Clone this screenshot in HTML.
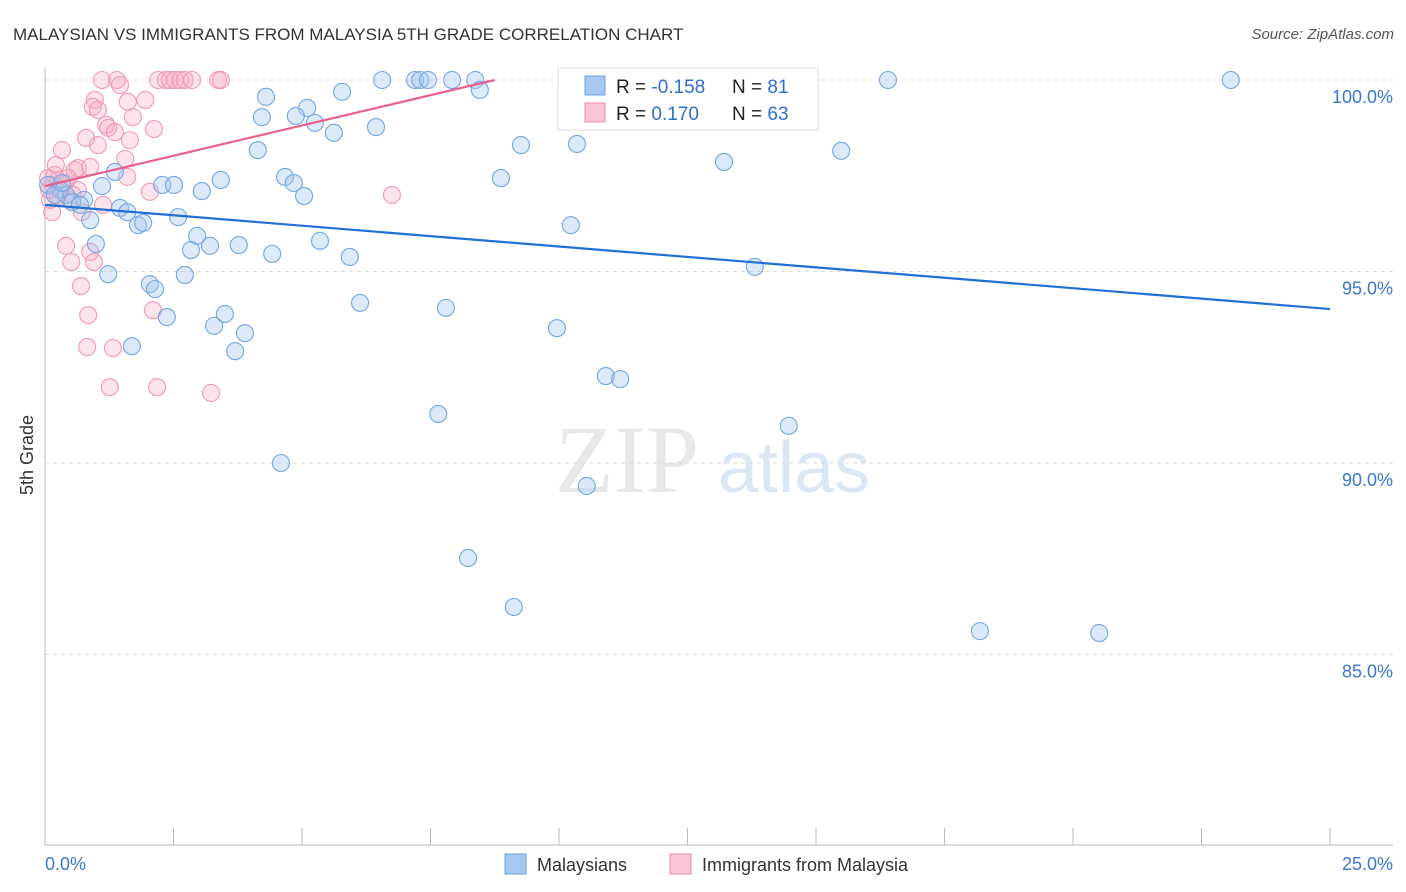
<!DOCTYPE html>
<html><head><meta charset="utf-8"><style>
body{margin:0;background:#fff;font-family:"Liberation Sans",sans-serif}
svg{display:block}
</style></head><body>
<svg width="1406" height="892">
<text x="13" y="40" font-size="17" fill="#333">MALAYSIAN VS IMMIGRANTS FROM MALAYSIA 5TH GRADE CORRELATION CHART</text>
<text x="1394" y="39" font-size="15" fill="#555" text-anchor="end" font-style="italic">Source: ZipAtlas.com</text>
<text x="555" y="492" font-size="96" fill="#e8e8e8" font-family="Liberation Serif,serif">ZIP</text>
<text x="718" y="492" font-size="72" fill="#dce7f6">atlas</text>
<g id="grid"></g>
<line x1="45" y1="68" x2="45" y2="845" stroke="#bbb"/>
<line x1="45" y1="845" x2="1393" y2="845" stroke="#bbb"/>
<text x="33" y="455" font-size="18" fill="#333" transform="rotate(-90 33 455)" text-anchor="middle">5th Grade</text>
<text x="45" y="870" font-size="18" fill="#3a78d0">0.0%</text>
<text x="1393" y="870" font-size="18" fill="#3a78d0" text-anchor="end">25.0%</text>
<g id="pts"></g>
<g id="lines"></g>
<g>
<rect x="558" y="68" width="260" height="62" fill="#fff" stroke="#ddd"/>
<rect x="585" y="76" width="20" height="19" fill="#a8c8f4" stroke="#6a9fe0"/>
<rect x="585" y="103" width="20" height="19" fill="#fcc6d6" stroke="#e88aa8"/>
<text x="616" y="93" font-size="19" fill="#222">R = <tspan fill="#2f6fd0">-0.158</tspan></text>
<text x="732" y="93" font-size="19" fill="#222">N = <tspan fill="#2f6fd0"> 81</tspan></text>
<text x="616" y="120" font-size="19" fill="#222">R = <tspan fill="#2f6fd0"> 0.170</tspan></text>
<text x="732" y="120" font-size="19" fill="#222">N = <tspan fill="#2f6fd0">63</tspan></text>
</g>
<g>
<rect x="505" y="854" width="21" height="20" fill="#a8c8f4" stroke="#6a9fe0"/>
<text x="537" y="871" font-size="18" fill="#333">Malaysians</text></g>
<g>
<rect x="670" y="854" width="21" height="20" fill="#fcc6d6" stroke="#e88aa8"/>
<text x="702" y="871" font-size="18" fill="#333">Immigrants from Malaysia</text></g>
</svg>
<script>
const yTicks=[100,95,90,85];
const yTickLabels=["100.0%","95.0%","90.0%","85.0%"];
const xTicks=[0,2.5,5,7.5,10,12.5,15,17.5,20,22.5,25];
const blueX=[6.56,7.20,7.30,7.45,7.92,8.37,8.46,11.50,14.11,16.40,23.07,4.30,5.78,5.10,4.22,4.88,5.25,5.62,6.44,9.26,10.35,13.21,15.49,4.14,1.36,4.67,4.84,3.42,2.28,2.51,3.05,5.04,1.11,8.87,0.29,0.41,0.76,0.53,1.46,1.60,2.59,1.81,1.91,0.88,10.23,2.96,2.84,3.21,3.77,4.42,5.35,5.93,0.99,1.23,2.72,2.04,2.14,13.81,6.13,7.80,2.37,3.29,3.50,3.89,1.69,3.70,9.96,10.91,11.19,7.65,14.47,4.59,10.54,8.23,9.12,18.19,20.51,0.06,0.19,0.33,0.68];
const blueY=[100,100,100,100,100,100,99.74,100,100,100,100,99.56,99.69,99.27,99.03,99.06,98.88,98.62,98.77,98.30,98.33,97.86,98.15,98.17,97.60,97.47,97.31,97.39,97.26,97.26,97.10,96.97,97.23,97.44,97.13,97.00,96.87,96.81,96.66,96.55,96.42,96.21,96.27,96.34,96.21,95.93,95.56,95.67,95.69,95.46,95.80,95.38,95.72,94.93,94.91,94.67,94.54,95.12,94.18,94.05,93.81,93.58,93.89,93.39,93.05,92.92,93.52,92.27,92.19,91.28,90.97,90.0,89.40,87.52,86.24,85.61,85.56,97.26,97.00,97.31,96.74];
const pinkX=[1.11,1.40,2.20,2.35,2.43,2.53,2.63,2.72,2.86,3.37,3.42,1.46,0.97,1.61,0.93,1.03,1.95,1.71,1.19,0.80,1.23,1.36,1.65,2.12,1.03,0.33,1.56,0.21,0.58,0.64,0.88,1.60,6.75,2.04,0.25,0.14,0.08,0.29,0.39,0.64,0.49,0.14,0.72,1.13,0.41,0.88,0.51,0.95,0.70,2.10,0.84,0.82,1.32,1.26,2.18,3.23,0.19,0.06,0.45,0.54,0.10,0.25];
const pinkY=[100,100,100,100,100,100,100,100,100,100,100,99.87,99.48,99.43,99.30,99.22,99.48,99.03,98.83,98.49,98.75,98.64,98.43,98.72,98.30,98.17,97.94,97.78,97.65,97.70,97.73,97.47,97.00,97.08,97.39,97.26,97.13,97.18,97.31,97.13,96.87,96.55,96.55,96.74,95.67,95.51,95.25,95.25,94.62,93.99,93.86,93.03,93.00,91.98,91.98,91.83,97.52,97.44,97.44,97.00,96.87,96.97];
const blueTrend=[[0,96.74],[25,94.02]];
const pinkTrend=[[0,97.23],[8.75,100]];
const NS="http://www.w3.org/2000/svg";
const sx=v=>45+v*51.4;
const sy=v=>80+(100-v)*38.3;
function mk(t,a){const e=document.createElementNS(NS,t);for(const k in a)e.setAttribute(k,a[k]);return e;}
const grid=document.getElementById('grid');
yTicks.forEach((v,i)=>{
 const l=mk('line',{x1:45,x2:1393,y1:sy(v),y2:sy(v),stroke:'#ddd','stroke-dasharray':'4,4'});
 
 
 grid.appendChild(l);
 const t=mk('text',{x:1393,y:sy(v)+23,'font-size':18,fill:'#3a78d0','text-anchor':'end'});
 t.textContent=yTickLabels[i];
 
 
 grid.appendChild(t);
});
xTicks.forEach(v=>{
 const l=mk('line',{x1:sx(v),x2:sx(v),y1:828,y2:845,stroke:'#bbb'});
 
 
 grid.appendChild(l);
});
const pts=document.getElementById('pts');
pinkX.forEach((x,i)=>{
 const c=mk('circle',{cx:sx(x),cy:sy(pinkY[i]),r:8.5,fill:'rgba(248,176,198,0.35)',stroke:'#ef9ab6','stroke-width':1.1});
 
 
 pts.appendChild(c);
});
blueX.forEach((x,i)=>{
 const c=mk('circle',{cx:sx(x),cy:sy(blueY[i]),r:8.5,fill:'rgba(160,196,240,0.38)',stroke:'#74a6e2','stroke-width':1.1});
 
 
 pts.appendChild(c);
});
const lines=document.getElementById('lines');
const bl=mk('line',{x1:sx(blueTrend[0][0]),y1:sy(blueTrend[0][1]),x2:sx(blueTrend[1][0]),y2:sy(blueTrend[1][1]),stroke:'#1f6fd6','stroke-width':2.2});


lines.appendChild(bl);
const pl=mk('line',{x1:sx(pinkTrend[0][0]),y1:sy(pinkTrend[0][1]),x2:sx(pinkTrend[1][0]),y2:sy(pinkTrend[1][1]),stroke:'#e8608e','stroke-width':2.2});


lines.appendChild(pl);
</script>
</body></html>
